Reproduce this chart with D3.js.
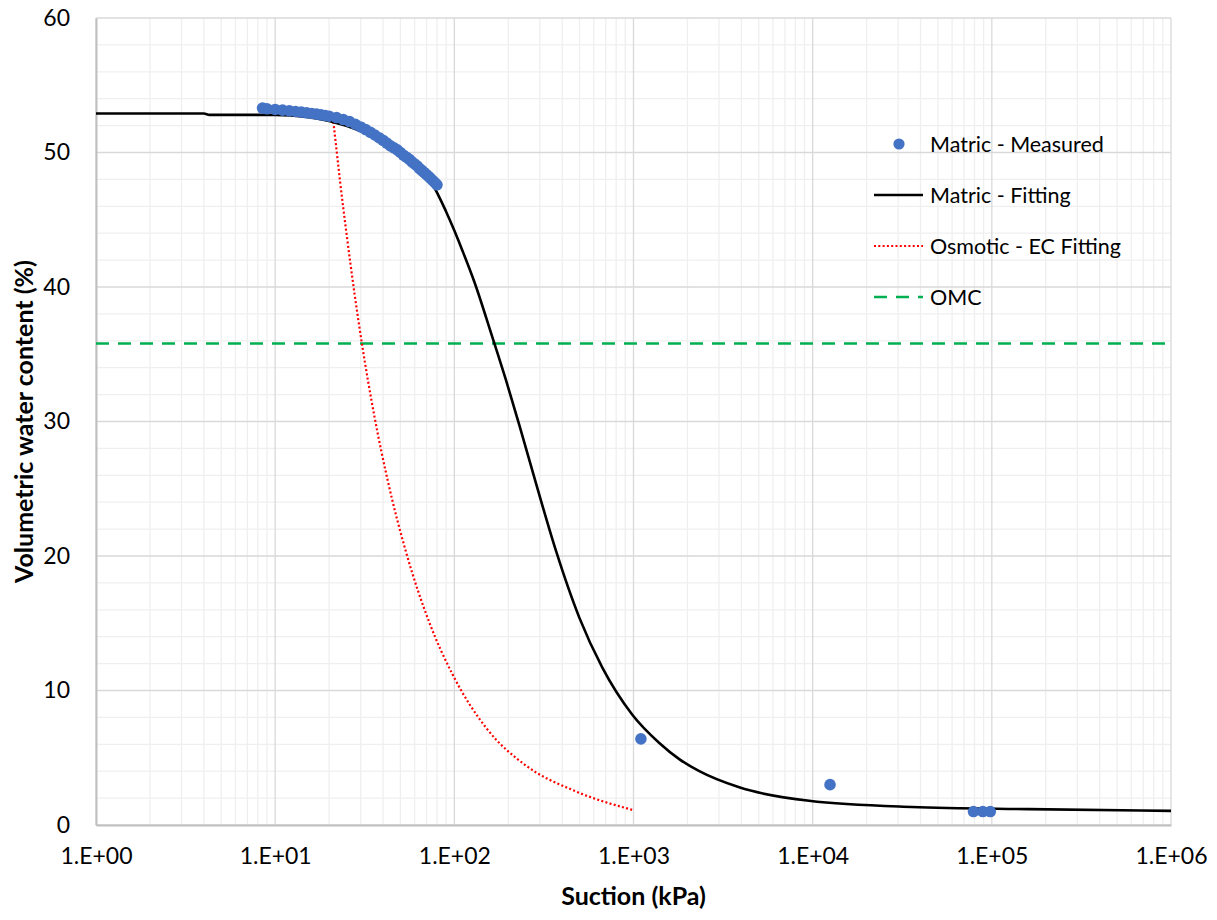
<!DOCTYPE html>
<html>
<head>
<meta charset="utf-8">
<script src="https://cdn.jsdelivr.net/npm/d3@7"></script>
<style>
  body { margin: 0; background: #fff; }
  svg text { font-family: Lato, "Open Sans", sans-serif; fill: #000; }
</style>
</head>
<body>
<svg id="chart"></svg>
<script>
// measured matric suction points (kPa) and water content (%)
var measuredSuction = [8.5, 9, 10, 11, 12, 13, 14, 15, 16, 17, 18, 19, 20, 22, 24, 26, 28, 30, 32, 34, 36, 38, 40,
  42, 44, 46, 48, 50, 52, 54, 56, 58, 60, 62, 64, 66, 68, 70, 72, 74, 76, 78, 80,
  1100, 12500, 79000, 89000, 98000];
var measuredWater = [53.3, 53.25, 53.2, 53.15, 53.1, 53.05, 53.0, 52.95, 52.9, 52.85, 52.8, 52.75, 52.7, 52.6, 52.45, 52.3, 52.1, 51.9, 51.7, 51.5, 51.3, 51.1, 50.9,
  50.7, 50.5, 50.35, 50.2, 50.0, 49.8, 49.65, 49.5, 49.3, 49.15, 49.0, 48.8, 48.65, 48.5, 48.35, 48.2, 48.05, 47.9, 47.75, 47.6,
  6.4, 3.0, 1.0, 1.0, 1.0];

// matric fitting curve
var fitSuction = [1, 2, 4, 4.3, 6, 8, 10, 15, 20, 30, 40, 50, 60, 75, 90, 100, 111, 130, 161, 195, 231, 287, 371, 499, 670, 985, 1393, 1800, 2330, 3890, 9550, 35800, 160000, 1000000];
var fitWater = [52.9, 52.9, 52.9, 52.8, 52.8, 52.8, 52.8, 52.65, 52.35, 51.6, 50.8, 49.9, 49.0, 47.7, 45.6, 44.2, 42.7, 40.3, 36.5, 33.0, 29.7, 25.3, 20.3, 15.4, 11.7, 8.2, 6.1, 4.9, 4.0, 2.8, 1.8, 1.34, 1.18, 1.05];

// osmotic - EC fitting curve
var osmSuction = [21, 22, 23, 25, 27.8, 30.4, 35.9, 42.5, 54, 72.8, 97.7, 151, 252, 457, 1000];
var osmWater = [52.6, 50.2, 47.9, 44.0, 39.4, 35.9, 30.3, 25.6, 20.2, 15.0, 11.2, 7.2, 4.4, 2.6, 1.1];

// optimum moisture content
var omcValue = 35.8;

var xTicks = [1, 10, 100, 1000, 10000, 100000, 1000000];
var xTickLabels = ["1.E+00", "1.E+01", "1.E+02", "1.E+03", "1.E+04", "1.E+05", "1.E+06"];
var yTicks = [0, 10, 20, 30, 40, 50, 60];

var legendLabels = ["Matric - Measured", "Matric - Fitting", "Osmotic - EC Fitting", "OMC"];

var width = 1217, height = 920;
var margin = {top: 18, right: 46, bottom: 95, left: 96};

var svg = d3.select("#chart").attr("width", width).attr("height", height);
var g = svg.append("g").attr("transform", "translate(" + margin.left + "," + margin.top + ")");

var w = width - margin.left - margin.right,
    h = height - margin.top - margin.bottom;

var x = d3.scaleLog().domain([1, 1000000]).range([0, w]);
var y = d3.scaleLinear().domain([0, 60]).range([h, 0]);

// minor gridlines (2..9 in each decade, every 2 on y)
var minorX = [];
for (var e = 0; e < 6; e++) {
  for (var k = 2; k <= 9; k++) minorX.push(k * Math.pow(10, e));
}
var minorY = d3.range(0, 61, 2).filter(function(v) { return v % 10 != 0; });

g.append("g").selectAll("line").data(minorX).enter().append("line")
  .attr("x1", function(d) { return x(d); }).attr("x2", function(d) { return x(d); })
  .attr("y1", 0).attr("y2", h)
  .attr("stroke", "#efefef").attr("stroke-width", 1.3);

g.append("g").selectAll("line").data(minorY).enter().append("line")
  .attr("x1", 0).attr("x2", w)
  .attr("y1", function(d) { return y(d); }).attr("y2", function(d) { return y(d); })
  .attr("stroke", "#efefef").attr("stroke-width", 1.3);

// major gridlines
g.append("g").selectAll("line").data(xTicks).enter().append("line")
  .attr("x1", function(d) { return x(d); }).attr("x2", function(d) { return x(d); })
  .attr("y1", 0).attr("y2", h)
  .attr("stroke", "#d9d9d9").attr("stroke-width", 1.3);

g.append("g").selectAll("line").data(yTicks).enter().append("line")
  .attr("x1", 0).attr("x2", w)
  .attr("y1", function(d) { return y(d); }).attr("y2", function(d) { return y(d); })
  .attr("stroke", "#d9d9d9").attr("stroke-width", 1.3);

// axes
var xAxis = g.append("g")
  .attr("transform", "translate(0," + h + ")")
  .call(d3.axisBottom(x).tickValues(xTicks).tickSize(0).tickPadding(23)
    .tickFormat(function(d, i) { return xTickLabels[i]; }));
xAxis.select(".domain").attr("stroke", "#bfbfbf").attr("stroke-width", 2);
xAxis.selectAll("text").style("font-size", "23px").attr("dy", "0.71em");

var yAxis = g.append("g")
  .call(d3.axisLeft(y).tickValues(yTicks).tickSize(0).tickPadding(26));
yAxis.select(".domain").attr("stroke", "#bfbfbf").attr("stroke-width", 2);
yAxis.selectAll("text").style("font-size", "23px");

// axis titles
svg.append("text")
  .attr("x", margin.left + w / 2).attr("y", 905)
  .attr("text-anchor", "middle")
  .style("font-size", "25px").style("font-weight", "bold")
  .text("Suction (kPa)");

svg.append("text")
  .attr("transform", "translate(33," + (margin.top + h / 2) + ") rotate(-90)")
  .attr("text-anchor", "middle")
  .style("font-size", "25px").style("font-weight", "bold")
  .text("Volumetric water content (%)");

var line = d3.line()
  .x(function(d) { return x(d[0]); })
  .y(function(d) { return y(d[1]); })
  .curve(d3.curveMonotoneX);

// OMC
g.append("line")
  .attr("x1", 0).attr("x2", w)
  .attr("y1", y(omcValue)).attr("y2", y(omcValue))
  .attr("stroke", "#00b050").attr("stroke-width", 2.5)
  .attr("stroke-dasharray", "13,9");

// osmotic curve
g.append("path")
  .datum(d3.zip(osmSuction, osmWater))
  .attr("d", line)
  .attr("fill", "none").attr("stroke", "#ff0000").attr("stroke-width", 2.2)
  .attr("stroke-dasharray", "2,2.3");

// matric fitting curve
g.append("path")
  .datum(d3.zip(fitSuction, fitWater))
  .attr("d", line)
  .attr("fill", "none").attr("stroke", "#000").attr("stroke-width", 2.6);

// measured points
g.append("g").selectAll("circle")
  .data(d3.zip(measuredSuction, measuredWater))
  .enter().append("circle")
  .attr("cx", function(d) { return x(d[0]); })
  .attr("cy", function(d) { return y(d[1]); })
  .attr("r", 5.8)
  .attr("fill", "#4472c4");

// legend
var legend = svg.append("g").attr("transform", "translate(874,144)");
var rowH = 51;

legend.append("circle").attr("cx", 25).attr("cy", 0).attr("r", 5.6).attr("fill", "#4472c4");
legend.append("line").attr("x1", 0).attr("x2", 49).attr("y1", rowH).attr("y2", rowH)
  .attr("stroke", "#000").attr("stroke-width", 2.6);
legend.append("line").attr("x1", 0).attr("x2", 49).attr("y1", rowH * 2).attr("y2", rowH * 2)
  .attr("stroke", "#ff0000").attr("stroke-width", 2.2).attr("stroke-dasharray", "2,2.3");
legend.append("line").attr("x1", 0).attr("x2", 49).attr("y1", rowH * 3).attr("y2", rowH * 3)
  .attr("stroke", "#00b050").attr("stroke-width", 2.5).attr("stroke-dasharray", "13,9");

legend.selectAll("text.lbl").data(legendLabels).enter().append("text")
  .attr("class", "lbl")
  .attr("x", 56)
  .attr("y", function(d, i) { return i * rowH; })
  .attr("dy", "0.35em")
  .style("font-size", "21.5px")
  .text(function(d) { return d; });
</script>
</body>
</html>
